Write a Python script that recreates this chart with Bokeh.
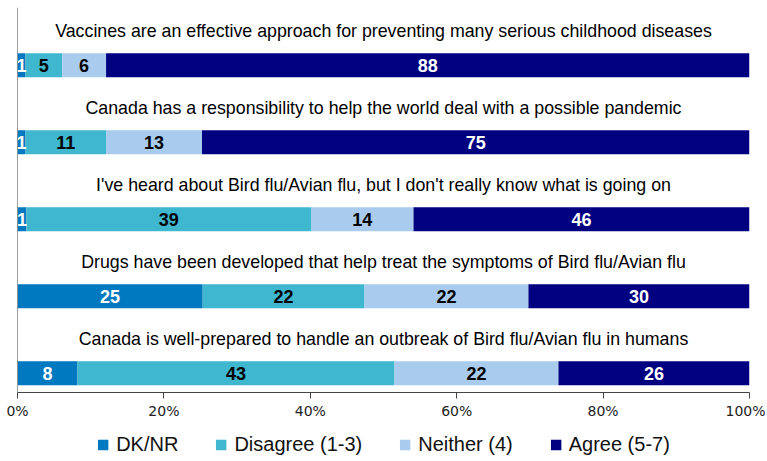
from bokeh.plotting import figure
from bokeh.layouts import column
from bokeh.models import ColumnDataSource, Range1d, Span, Legend, LegendItem, FixedTicker, CustomJSTickFormatter
from bokeh.core.properties import value
from bokeh.embed import file_html
from bokeh.resources import INLINE

statements = [
    "Vaccines are an effective approach for preventing many serious childhood diseases",
    "Canada has a responsibility to help the world deal with a possible pandemic",
    "I've heard about Bird flu/Avian flu, but I don't really know what is going on",
    "Drugs have been developed that help treat the symptoms of Bird flu/Avian flu",
    "Canada is well-prepared to handle an outbreak of Bird flu/Avian flu in humans",
]
series = ["DK/NR", "Disagree (1-3)", "Neither (4)", "Agree (5-7)"]
dk_nr = [1.1, 1.1, 1.2, 25.3, 8.2]
disagree = [5.0, 11.0, 38.9, 22.1, 43.3]
neither = [6.0, 13.1, 14.0, 22.4, 22.4]
agree = [87.9, 74.8, 45.9, 30.2, 26.1]
colors = ["#0079C1", "#3FB7CE", "#A8CBEE", "#000080"]
label_colors = ["white", "black", "black", "white"]
x_ticks = [0, 20, 40, 60, 80, 100]

n = len(statements)
values = [dk_nr, disagree, neither, agree]
keys = ["s0", "s1", "s2", "s3"]
ypos = [n - 0.75 - i for i in range(n)]

data = {"y": ypos}
for k, v in zip(keys, values):
    data[k] = v
source = ColumnDataSource(data)

p = figure(frame_width=732, frame_height=385, output_backend="svg", toolbar_location=None,
           x_range=Range1d(0, 100), y_range=Range1d(0, n),
           min_border_left=17, min_border_right=16, min_border_top=7, min_border_bottom=0,
           outline_line_color=None)
p.xgrid.visible = False
p.ygrid.visible = False
p.yaxis.visible = False

renderers = p.hbar_stack(keys, y="y", height=0.31, color=colors, line_color=None,
                         source=source)

# segment labels
for j, k in enumerate(keys):
    xs, ys, txt = [], [], []
    for i in range(n):
        left = sum(values[m][i] for m in range(j))
        xs.append(left + values[j][i] / 2)
        ys.append(ypos[i])
        txt.append(str(round(values[j][i])))
    p.text(x=xs, y=ys, text=txt, text_align="center", text_baseline="middle",
           text_font=value("Liberation Sans"), text_font_size="18px",
           text_font_style="bold", text_color=label_colors[j])

p.text(x=[50] * n, y=[y + 0.44 for y in ypos], text=statements,
       text_align="center", text_baseline="middle",
       text_font=value("Liberation Sans"), text_font_size="17.8px", text_color="black")

p.add_layout(Span(location=0, dimension="height", line_color="#444444", line_width=1))

ax = p.xaxis[0]
ax.ticker = FixedTicker(ticks=x_ticks)
ax.formatter = CustomJSTickFormatter(code="return tick + '%';")
ax.minor_tick_line_color = None
ax.major_tick_in = 0
ax.major_tick_out = 6
ax.major_label_standoff = 4
ax.axis_line_color = "#444444"
ax.major_tick_line_color = "#444444"
ax.major_label_text_font = "DejaVu Sans"
ax.major_label_text_font_size = "14px"
ax.major_label_text_color = "#222222"

# legend strip below the chart (proxy renderers kept outside the visible range)
pl = figure(width=765, height=40, output_backend="svg", toolbar_location=None,
            x_range=Range1d(0, 1), y_range=Range1d(0, 1),
            min_border_left=16, min_border_right=0, min_border_top=0, min_border_bottom=0,
            outline_line_color=None)
pl.xaxis.visible = False
pl.yaxis.visible = False
pl.xgrid.visible = False
pl.ygrid.visible = False
items = []
for s, c in zip(series, colors):
    r = pl.vbar(x=[-5], top=[-5], bottom=[-6], width=0.1, color=c, line_color=None)
    items.append(LegendItem(label=s, renderers=[r]))
legend = Legend(items=items, orientation="horizontal", location="top_center",
                label_text_font="Liberation Sans", label_text_font_size="20px",
                label_text_color="#111111",
                glyph_width=13, glyph_height=13, label_standoff=7, spacing=36,
                border_line_color=None, background_fill_alpha=0, margin=12, padding=0)
pl.add_layout(legend, "center")

layout = column(p, pl, spacing=0)
open("out.html", "w").write(file_html(layout, INLINE))
